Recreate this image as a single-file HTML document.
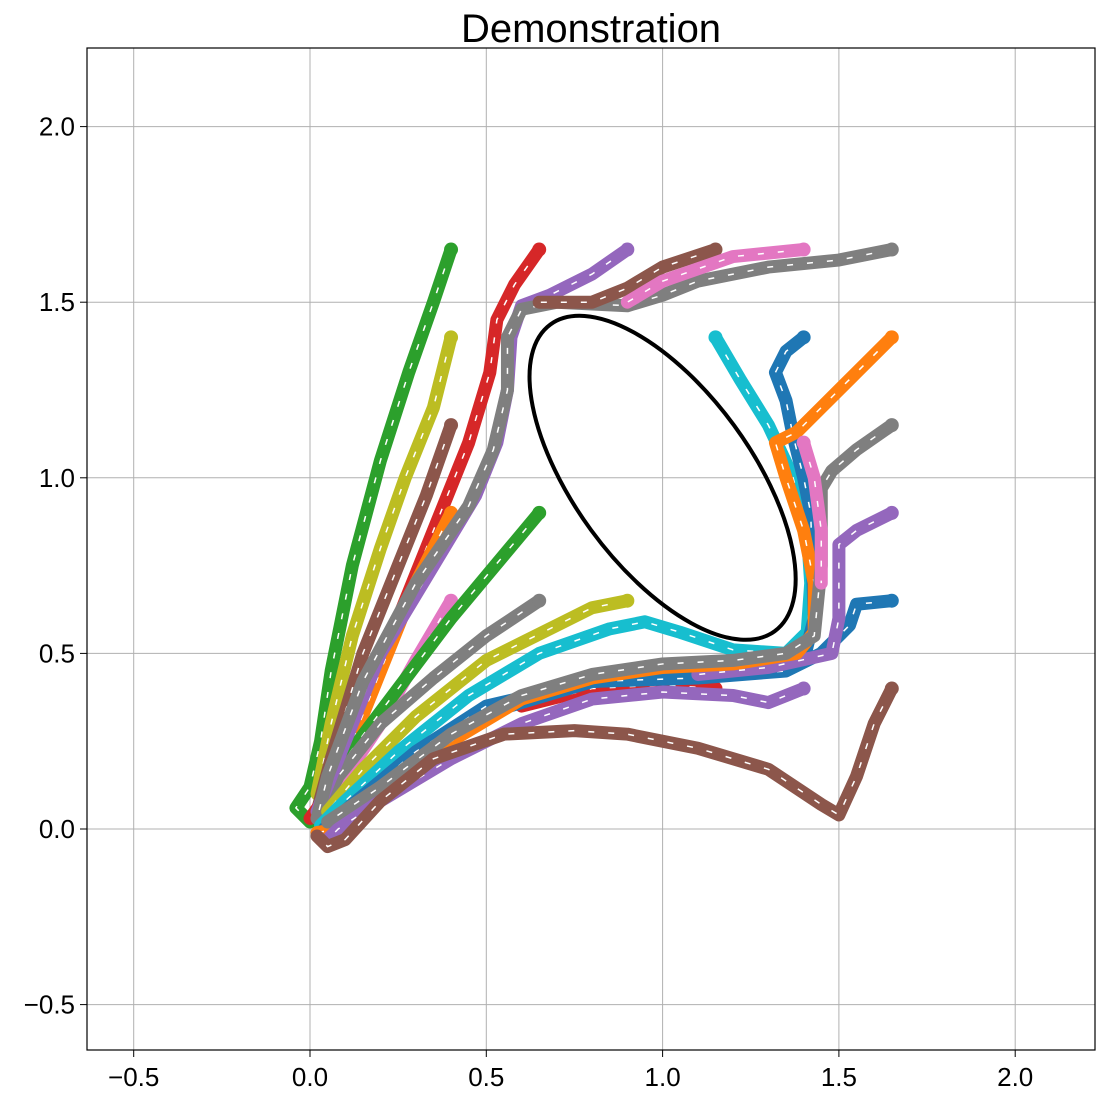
<!DOCTYPE html>
<html><head><meta charset="utf-8"><style>
body{margin:0;background:#fff;}
svg text{font-family:"Liberation Sans",sans-serif;}
</style></head><body>
<svg id="chart" width="1104" height="1098" xmlns="http://www.w3.org/2000/svg">
<rect width="1104" height="1098" fill="#fff"/>
<text x="591" y="42" font-size="40" text-anchor="middle" fill="#000">Demonstration</text>
<g id="grid"></g>
<g id="ticks"></g>
<g id="series"></g>
<g id="obstacle"></g>
<rect x="87" y="48" width="1008" height="1002" fill="none" stroke="#000" stroke-width="1.2"/>
</svg>
<script>
const xTicks=[-0.5,0,0.5,1,1.5,2];
const yTicks=[-0.5,0,0.5,1,1.5,2];
const tickLabels=["\u22120.5","0.0","0.5","1.0","1.5","2.0"];
const colors=["#d62728","#2ca02c","#bcbd22","#8c564b","#d62728","#ff7f0e","#e377c2","#2ca02c","#7f7f7f","#9467bd","#7f7f7f","#8c564b","#e377c2","#bcbd22","#17becf","#1f77b4","#1f77b4","#9467bd","#ff7f0e","#7f7f7f","#9467bd","#e377c2","#8c564b"];
const t22=[[1.15,0.4],[1.0,0.41],[0.8,0.4],[0.6,0.35]];
const t0=[[0.4,1.65],[0.35,1.5],[0.28,1.3],[0.2,1.05],[0.12,0.75],[0.06,0.45],[0.03,0.25],[0,0.12],[-0.04,0.06],[0,0.02]];
const t1=[[0.4,1.4],[0.35,1.2],[0.27,1.0],[0.2,0.8],[0.12,0.55],[0.06,0.3],[0.02,0.1]];
const t2=[[0.4,1.15],[0.33,0.95],[0.25,0.75],[0.15,0.5],[0.06,0.2],[0.02,0.05]];
const t3=[[0.65,1.65],[0.58,1.55],[0.53,1.45],[0.51,1.3],[0.45,1.1],[0.35,0.85],[0.25,0.6],[0.15,0.35],[0.05,0.1],[0,0.03]];
const t4=[[0.4,0.9],[0.3,0.7],[0.2,0.45],[0.1,0.2],[0.02,0.05]];
const t5=[[0.4,0.65],[0.3,0.48],[0.2,0.3],[0.1,0.15],[0.03,0.05]];
const t6=[[0.65,0.9],[0.55,0.78],[0.4,0.6],[0.25,0.4],[0.1,0.2],[0.02,0.05]];
const t7=[[0.65,0.65],[0.5,0.55],[0.35,0.43],[0.2,0.3],[0.08,0.15],[0.02,0.03]];
const t8=[[0.9,1.65],[0.8,1.58],[0.68,1.52],[0.6,1.49],[0.57,1.4],[0.56,1.25],[0.53,1.1],[0.47,0.95],[0.35,0.75],[0.2,0.5],[0.08,0.2],[0.02,0.05]];
const t9=[[1.65,1.65],[1.5,1.62],[1.3,1.6],[1.1,1.56],[1.0,1.52],[0.9,1.49],[0.7,1.5],[0.6,1.48],[0.56,1.4],[0.56,1.25],[0.52,1.08],[0.45,0.92],[0.3,0.7],[0.15,0.42],[0.05,0.15],[0.02,0.03]];
const t10=[[1.15,1.65],[1.0,1.6],[0.9,1.54],[0.8,1.5],[0.65,1.5]];
const t11=[[1.4,1.65],[1.2,1.63],[1.0,1.56],[0.9,1.5]];
const t12=[[0.9,0.65],[0.8,0.63],[0.7,0.58],[0.5,0.48],[0.3,0.32],[0.15,0.17],[0.05,0.05]];
const t13=[[1.15,1.4],[1.22,1.28],[1.3,1.15],[1.37,1.0],[1.41,0.85],[1.42,0.7],[1.41,0.56],[1.35,0.5],[1.2,0.51],[1.05,0.56],[0.95,0.59],[0.85,0.57],[0.65,0.5],[0.45,0.38],[0.25,0.22],[0.1,0.08],[0.03,0.01]];
const t14=[[1.4,1.4],[1.35,1.36],[1.32,1.3],[1.35,1.22],[1.37,1.12],[1.4,1.0],[1.42,0.9],[1.43,0.6],[1.4,0.48],[1.3,0.45],[1.1,0.44],[0.8,0.42],[0.5,0.33],[0.3,0.2],[0.1,0.05]];
const t15=[[1.65,0.65],[1.55,0.64],[1.53,0.58],[1.5,0.55],[1.45,0.5],[1.35,0.45],[1.1,0.43],[0.8,0.42],[0.5,0.35],[0.3,0.22],[0.12,0.07],[0.04,0]];
const t18=[[1.65,0.9],[1.55,0.85],[1.5,0.81],[1.5,0.6],[1.48,0.5],[1.3,0.46],[1.1,0.44]];
const t16=[[1.65,1.4],[1.55,1.3],[1.45,1.2],[1.38,1.13],[1.32,1.1],[1.35,1.0],[1.4,0.85],[1.43,0.7],[1.43,0.56],[1.38,0.5],[1.2,0.47],[1.0,0.46],[0.8,0.43],[0.6,0.37],[0.4,0.25],[0.2,0.1],[0.08,0.0],[0.02,-0.01]];
const t17=[[1.65,1.15],[1.55,1.08],[1.48,1.02],[1.45,0.97],[1.45,0.75],[1.43,0.55],[1.35,0.5],[1.2,0.48],[1.0,0.47],[0.8,0.44],[0.6,0.38],[0.4,0.27],[0.2,0.12],[0.05,0.02]];
const t20=[[1.4,0.4],[1.35,0.38],[1.3,0.36],[1.2,0.38],[1.0,0.39],[0.8,0.37],[0.6,0.3],[0.4,0.2],[0.2,0.08],[0.08,0.0],[0.05,-0.03]];
const t19=[[1.4,1.1],[1.43,1.0],[1.45,0.85],[1.45,0.7]];
const t21=[[1.65,0.4],[1.6,0.3],[1.55,0.15],[1.5,0.04],[1.45,0.07],[1.3,0.17],[1.1,0.23],[0.9,0.27],[0.75,0.28],[0.55,0.27],[0.35,0.2],[0.2,0.08],[0.1,-0.03],[0.05,-0.05],[0.02,-0.02]];
const trajectories=[t22,t0,t1,t2,t3,t4,t5,t6,t7,t8,t9,t10,t11,t12,t13,t14,t15,t18,t16,t17,t20,t19,t21];
const ellipseCenter=[1.0,1.0];

const NS="http://www.w3.org/2000/svg";
const X=v=>310+v*352.6, Y=v=>829-v*351.2;
function mk(tag,attrs,parent){const e=document.createElementNS(NS,tag);for(const k in attrs)e.setAttribute(k,attrs[k]);parent.appendChild(e);return e;}
const grid=document.getElementById('grid'),ticks=document.getElementById('ticks');
xTicks.forEach((t,i)=>{
  const l=mk('line',{x1:X(t),x2:X(t),y1:48,y2:1050,stroke:'#b0b0b0','stroke-width':1},grid);
  
  
  mk('line',{x1:X(t),x2:X(t),y1:1050,y2:1057,stroke:'#000'},ticks);
  const tx=mk('text',{x:X(t),y:1086,'font-size':26,'text-anchor':'middle'},ticks);
  tx.textContent=tickLabels[i];
  
  
});
yTicks.forEach((t,i)=>{
  const l=mk('line',{x1:87,x2:1095,y1:Y(t),y2:Y(t),stroke:'#b0b0b0','stroke-width':1},grid);
  
  
  mk('line',{x1:80,x2:87,y1:Y(t),y2:Y(t),stroke:'#000'},ticks);
  const tx=mk('text',{x:75,y:Y(t)+9,'font-size':26,'text-anchor':'end'},ticks);
  tx.textContent=tickLabels[i];
  
  
});
const series=document.getElementById('series');
trajectories.forEach((tr,i)=>{
  const pts=tr.map(p=>X(p[0])+','+Y(p[1])).join(' ');
  const g=mk('g',{},series);
  
  
  mk('polyline',{points:pts,fill:'none',stroke:colors[i],'stroke-width':13,'stroke-linecap':'round','stroke-linejoin':'round'},g);
  mk('polyline',{points:pts,fill:'none',stroke:'#fff','stroke-width':1.5,'stroke-dasharray':'6 14'},g);
  const s=tr[0];
  mk('circle',{cx:X(s[0]),cy:Y(s[1]),r:7,fill:colors[i]},g);
});
const ob=document.getElementById('obstacle');
const e=mk('ellipse',{cx:X(ellipseCenter[0]),cy:Y(ellipseCenter[1]),rx:190,ry:88.6,fill:'none',stroke:'#000','stroke-width':4,transform:`rotate(53.8 ${X(ellipseCenter[0])} ${Y(ellipseCenter[1])})`},ob);


</script>
</body></html>
